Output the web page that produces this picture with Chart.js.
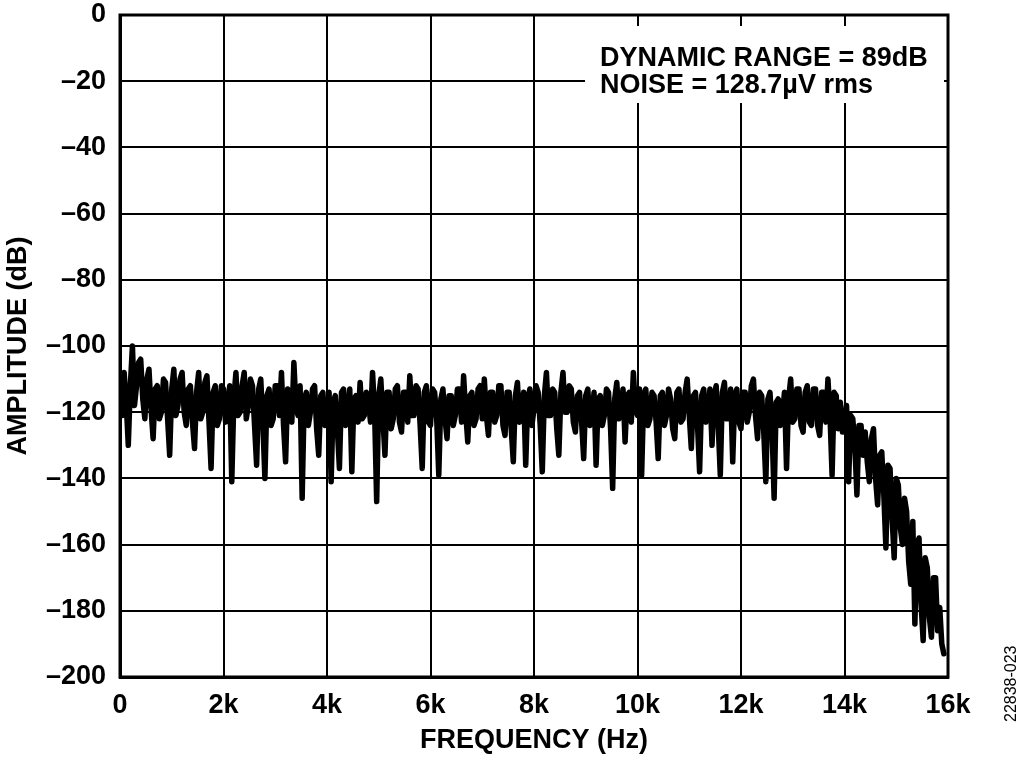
<!DOCTYPE html>
<html>
<head>
<meta charset="utf-8">
<script src="https://cdn.jsdelivr.net/npm/chart.js@4.4.1/dist/chart.umd.min.js"></script>
<style>
  html, body { margin: 0; padding: 0; background: #fff; }
  #wrap { position: relative; width: 1024px; height: 761px; }
  canvas { display: block; }
  #code { position: absolute; left: 1002px; top: 722px; transform-origin: 0 0; transform: rotate(-90deg);
          font-family: "Liberation Sans", Arial, sans-serif; font-size: 16px; color: #000; white-space: nowrap; }
</style>
</head>
<body>
<div id="wrap">
<canvas id="c" width="1024" height="761"></canvas>
<div id="code">22838-023</div>
</div>
<script>
// FFT bin spacing of the trace (Hz)
const BIN_HZ = 40;

// Amplitude (dB), one value per bin starting at 0 Hz
const amplitudeDb = [
  -110, -121, -108, -117, -130, -112, -100, -118, -112, -105, -104, -116, -122, -110, -107, -119, -128, -113, -112, -122,
  -120, -110, -111, -122, -133, -113, -107, -121, -118, -110, -108, -120, -124, -113, -112, -123, -131, -114, -108, -122,
  -120, -111, -109, -123, -137, -114, -112, -124, -122, -112, -113, -123, -119, -112, -141, -116, -108, -121, -120, -112,
  -108, -122, -118, -110, -112, -124, -136, -113, -110, -123, -140, -115, -113, -124, -122, -112, -112, -121, -108, -124,
  -135, -113, -114, -123, -105, -118, -121, -112, -146, -116, -114, -124, -120, -113, -112, -125, -133, -115, -114, -124,
  -122, -114, -141, -117, -115, -125, -137, -114, -113, -124, -121, -113, -138, -116, -115, -123, -111, -122, -121, -114,
  -116, -123, -108, -120, -147, -115, -110, -122, -133, -114, -114, -125, -122, -113, -112, -123, -126, -114, -114, -123,
  -109, -121, -121, -112, -113, -124, -137, -114, -112, -123, -124, -113, -114, -122, -139, -116, -113, -122, -128, -115,
  -115, -124, -121, -113, -113, -123, -109, -120, -129, -115, -114, -124, -122, -113, -112, -122, -110, -121, -127, -114,
  -114, -123, -121, -112, -112, -124, -127, -114, -114, -125, -135, -115, -111, -123, -120, -114, -136, -116, -113, -124,
  -119, -112, -114, -124, -138, -115, -108, -121, -121, -113, -114, -125, -133, -114, -108, -120, -120, -112, -113, -123,
  -126, -115, -114, -123, -134, -115, -113, -124, -122, -114, -136, -116, -115, -124, -121, -113, -114, -125, -143, -116,
  -111, -122, -120, -113, -129, -115, -114, -123, -108, -119, -121, -113, -139, -115, -113, -124, -122, -114, -115, -123,
  -134, -115, -114, -124, -121, -113, -116, -125, -128, -114, -113, -123, -122, -114, -110, -121, -131, -115, -114, -124,
  -138, -115, -113, -123, -121, -113, -130, -115, -112, -124, -139, -114, -111, -122, -122, -113, -135, -115, -113, -123,
  -125, -114, -114, -123, -120, -112, -110, -121, -128, -114, -115, -126, -141, -116, -114, -125, -146, -117, -116, -124,
  -121, -114, -137, -116, -110, -123, -122, -113, -113, -124, -126, -114, -112, -123, -124, -113, -113, -124, -127, -114,
  -114, -123, -110, -121, -139, -114, -115, -125, -117, -126, -124, -118, -141, -121, -122, -130, -145, -124, -124, -133,
  -126, -135, -141, -128, -125, -140, -148, -133, -132, -145, -161, -136, -137, -152, -164, -140, -142, -155, -160, -146,
  -150, -165, -172, -153, -184, -160, -158, -178, -189, -164, -167, -182, -188, -170, -170, -186, -179, -190, -193
];

const xTickValues = [0, 2000, 4000, 6000, 8000, 10000, 12000, 14000, 16000];
const xTickLabels = ['0', '2k', '4k', '6k', '8k', '10k', '12k', '14k', '16k'];
const yTickValues = [0, -20, -40, -60, -80, -100, -120, -140, -160, -180, -200];
const yTickLabels = ['0', '–20', '–40', '–60', '–80', '–100', '–120', '–140', '–160', '–180', '–200'];

const noteLines = ['DYNAMIC RANGE = 89dB', 'NOISE = 128.7µV rms'];

const points = amplitudeDb.map((v, i) => ({ x: i * BIN_HZ, y: v }));

const FONT = '"Liberation Sans", Arial, Helvetica, sans-serif';

const framePlugin = {
  id: 'frame',
  afterDatasetsDraw(chart) {
    const { ctx, chartArea: a } = chart;
    ctx.save();
    // white box behind the annotation, hiding grid lines
    ctx.fillStyle = '#fff';
    ctx.fillRect(a.left + 465, a.top + 11, a.right - a.left - 469, 77);
    ctx.fillStyle = '#000';
    ctx.font = 'bold 27px ' + FONT;
    ctx.textAlign = 'left';
    ctx.textBaseline = 'alphabetic';
    ctx.fillText(noteLines[0], a.left + 480, a.top + 51);
    ctx.fillText(noteLines[1], a.left + 480, a.top + 78);
    // plot frame
    ctx.strokeStyle = '#000';
    ctx.lineWidth = 3;
    ctx.strokeRect(a.left, a.top, a.right - a.left, a.bottom - a.top);
    ctx.restore();
  }
};

new Chart(document.getElementById('c'), {
  type: 'line',
  data: {
    datasets: [{
      data: points,
      borderColor: '#000',
      borderWidth: 5.5,
      pointRadius: 0,
      tension: 0,
      borderJoinStyle: 'round',
      borderCapStyle: 'round',
      fill: false
    }]
  },
  options: {
    responsive: false,
    animation: false,
    devicePixelRatio: 1,
    layout: { padding: { left: 0, right: 76, top: 15, bottom: 0 } },
    plugins: { legend: { display: false }, tooltip: { enabled: false } },
    scales: {
      x: {
        type: 'linear',
        min: 0, max: 16000,
        afterBuildTicks: s => { s.ticks = xTickValues.map(v => ({ value: v })); },
        afterFit: s => { s.height = 84; s.paddingLeft = 0; s.paddingRight = 0; },
        ticks: {
          callback: (v) => xTickLabels[xTickValues.indexOf(v)],
          color: '#000',
          font: { family: FONT, size: 27, weight: 'bold' },
          padding: 12,
          maxRotation: 0,
          autoSkip: false
        },
        grid: { color: '#000', lineWidth: 2, drawTicks: false },
        border: { display: true, color: '#000', width: 3 },
        title: {
          display: true,
          text: 'FREQUENCY (Hz)',
          color: '#000',
          font: { family: FONT, size: 27, weight: 'bold' },
          padding: { top: 0, bottom: 4 }
        }
      },
      y: {
        type: 'linear',
        min: -200, max: 0,
        afterBuildTicks: s => { s.ticks = yTickValues.map(v => ({ value: v })); },
        afterFit: s => { s.width = 120; s.paddingTop = 0; s.paddingBottom = 0; },
        ticks: {
          callback: (v) => yTickLabels[yTickValues.indexOf(v)],
          color: '#000',
          font: { family: FONT, size: 27, weight: 'bold' },
          padding: 14,
          autoSkip: false
        },
        grid: { color: '#000', lineWidth: 2, drawTicks: false },
        border: { display: true, color: '#000', width: 3 },
        title: {
          display: true,
          text: 'AMPLITUDE (dB)',
          color: '#000',
          font: { family: FONT, size: 27, weight: 'bold' },
          padding: { top: 2, bottom: 0 }
        }
      }
    }
  },
  plugins: [framePlugin]
});
</script>
</body>
</html>
